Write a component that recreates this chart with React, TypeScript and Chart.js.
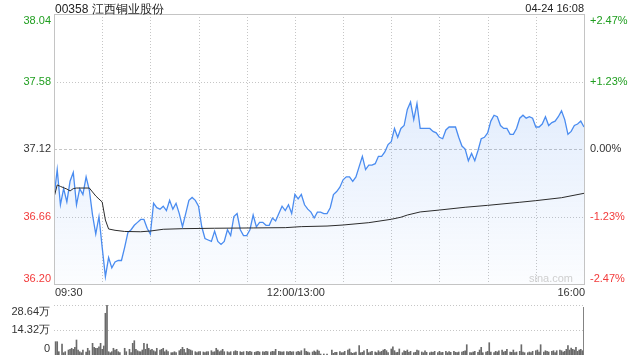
import React, { useEffect, useRef } from "react";
import { Chart, registerables } from "chart.js";

Chart.register(...registerables);

const TITLE = "00358 江西铜业股份";
const STAMP = "04-24 16:08";
const PREV_CLOSE = 37.12;
const PRICE_MIN = 36.2;
const PRICE_MAX = 38.04;
const PRICE_TICKS = [36.2, 36.66, 37.12, 37.58, 38.04];
const PRICE_LABELS = ["36.20", "36.66", "37.12", "37.58", "38.04"];
const PCT_LABELS = ["-2.47%", "-1.23%", "0.00%", "+1.23%", "+2.47%"];
const SESSION_MINUTES = 330;
const GRID_MINUTES = [30, 60, 90, 120, 150, 180, 210, 240, 270, 300];
const TIME_LABELS = ["09:30", "12:00/13:00", "16:00"];
const TIME_LABEL_MINUTES = [0, 150, 330];
const VOL_MAX = 28.64;
const VOL_TICKS = [0, 14.32, 28.64];
const VOL_LABELS = ["0", "14.32万", "28.64万"];

// price sampled every 2 minutes from 09:30
const PRICE_STEP = 2;
const prices = [
  36.79, 36.98, 36.74, 36.85, 36.76, 36.9, 36.96, 36.74, 36.85, 36.81,
  36.93, 36.84, 36.67, 36.54, 36.66, 36.45, 36.25, 36.38, 36.31, 36.35,
  36.36, 36.36, 36.45, 36.55, 36.57, 36.6, 36.62, 36.64, 36.64, 36.58,
  36.54, 36.75, 36.72, 36.71, 36.73, 36.7, 36.77, 36.71, 36.75, 36.68,
  36.59, 36.68, 36.77, 36.79, 36.77, 36.73, 36.59, 36.51, 36.5, 36.49,
  36.56, 36.49, 36.47, 36.49, 36.57, 36.53, 36.66, 36.68, 36.57, 36.53,
  36.53, 36.57, 36.67, 36.59, 36.62, 36.62, 36.6, 36.6, 36.65, 36.63,
  36.68, 36.73, 36.7, 36.74, 36.68, 36.81, 36.78, 36.81, 36.74, 36.71,
  36.69, 36.65, 36.69, 36.69, 36.68, 36.68, 36.72, 36.81, 36.83, 36.86,
  36.91, 36.93, 36.93, 36.9, 36.93, 37.0, 37.07, 36.98, 37.01, 37.01,
  37.02, 37.07, 37.07, 37.1, 37.15, 37.17, 37.26, 37.2, 37.26, 37.28,
  37.39, 37.44, 37.32, 37.43, 37.26, 37.26, 37.26, 37.26, 37.24, 37.23,
  37.2, 37.19, 37.25, 37.27, 37.27, 37.27, 37.2, 37.14, 37.12, 37.04,
  37.09, 37.04, 37.11, 37.19, 37.2, 37.23, 37.31, 37.35, 37.34, 37.28,
  37.26, 37.26, 37.22, 37.22, 37.26, 37.33, 37.35, 37.33, 37.34, 37.33,
  37.27, 37.27, 37.29, 37.34, 37.28, 37.3, 37.31, 37.34, 37.38, 37.32,
  37.22, 37.24, 37.28, 37.29, 37.31, 37.27,
];

// average price: [minute, price]
const avgLine: [number, number][] = [
  [0, 36.79], [2, 36.875], [4, 36.865], [8, 36.847], [10, 36.834], [12, 36.85],
  [14, 36.854], [22, 36.854], [24, 36.827], [26, 36.8], [28, 36.779], [30, 36.759],
  [32, 36.636], [34, 36.575], [38, 36.566], [44, 36.558], [54, 36.556], [60, 36.561],
  [68, 36.573], [80, 36.577], [100, 36.58], [124, 36.582], [144, 36.584], [154, 36.591],
  [170, 36.595], [180, 36.602], [196, 36.618], [210, 36.641], [216, 36.655], [220, 36.67],
  [228, 36.691], [240, 36.704], [256, 36.723], [270, 36.736], [290, 36.757], [300, 36.768],
  [316, 36.788], [330, 36.818],
];

// volume in 万 shares: [minute, volume]
const volume: [number, number][] = [
  [1, 7.62], [2, 7.62], [3, 1.89], [5, 6.3], [6, 1.32], [7, 1.89], [9, 2.86], [10, 3.26],
  [11, 3.84], [12, 3.26], [13, 4.41], [14, 8.59], [15, 2.86], [16, 1.89], [17, 1.32], [18, 2.86],
  [20, 1.72], [21, 3.84], [22, 2.46], [24, 6.7], [25, 4.41], [26, 3.84], [27, 3.84], [28, 4.75],
  [29, 6.7], [30, 3.26], [31, 5.16], [32, 23.89], [33, 28.64], [34, 1.89], [35, 1.32], [36, 1.89],
  [37, 3.84], [38, 2.86], [39, 3.26], [40, 1.89], [41, 1.32], [44, 3.84], [45, 1.89], [47, 3.26],
  [48, 1.32], [49, 6.7], [50, 8.19], [51, 3.26], [52, 2.46], [53, 1.89], [54, 1.89], [55, 2.86],
  [56, 6.7], [57, 3.26], [58, 6.3], [59, 3.84], [60, 2.86], [61, 3.26], [62, 2.46], [63, 1.89],
  [64, 3.84], [66, 2.86], [67, 3.26], [68, 3.84], [69, 1.89], [70, 2.86], [71, 1.89], [73, 1.32],
  [74, 1.32], [75, 1.89], [76, 1.32], [78, 2.46], [79, 3.26], [80, 4.41], [81, 3.26], [82, 1.32],
  [83, 3.84], [84, 3.26], [85, 2.86], [86, 2.46], [88, 1.89], [89, 1.32], [90, 1.89], [91, 1.89],
  [93, 1.72], [94, 1.32], [95, 1.89], [96, 1.89], [98, 2.46], [99, 1.72], [100, 1.89], [101, 3.84],
  [102, 2.86], [103, 1.89], [104, 2.46], [105, 3.26], [106, 1.89], [108, 1.89], [109, 1.32], [110, 1.89],
  [112, 1.89], [113, 2.46], [114, 2.12], [116, 1.89], [117, 1.55], [118, 1.89], [120, 2.12], [121, 1.72],
  [122, 2.12], [123, 1.72], [125, 1.55], [126, 1.89], [127, 2.12], [128, 1.72], [130, 1.89], [131, 1.72],
  [132, 2.12], [133, 1.89], [135, 1.72], [136, 2.12], [137, 1.89], [138, 3.26], [140, 2.12], [141, 1.89],
  [142, 1.72], [143, 1.89], [145, 1.89], [146, 1.72], [147, 2.12], [148, 1.72], [149, 1.89], [151, 1.72],
  [152, 2.12], [153, 1.72], [154, 2.46], [156, 3.61], [157, 2.12], [158, 1.72], [159, 1.32], [161, 1.72],
  [162, 2.29], [163, 1.72], [164, 2.86], [165, 2.29], [166, 0.57], [168, 0.57], [170, 0.57], [173, 2.86],
  [174, 0.97], [175, 1.55], [176, 1.55], [178, 1.89], [179, 1.32], [180, 1.32], [181, 2.12], [183, 2.86],
  [184, 3.44], [185, 1.32], [186, 0.97], [187, 1.32], [188, 1.72], [190, 5.33], [191, 1.32], [192, 1.55],
  [193, 2.46], [195, 3.26], [196, 1.32], [197, 1.72], [198, 2.12], [200, 1.72], [201, 1.32], [202, 2.46],
  [203, 1.72], [204, 2.12], [205, 2.86], [206, 3.26], [207, 2.46], [208, 1.32], [210, 3.44], [211, 4.75],
  [212, 2.46], [213, 1.32], [214, 1.55], [215, 3.44], [217, 1.32], [218, 2.46], [219, 2.12], [220, 2.86],
  [221, 1.55], [222, 2.12], [224, 1.32], [225, 1.55], [226, 2.86], [227, 2.46], [229, 1.72], [230, 1.32],
  [231, 2.46], [232, 1.55], [234, 1.32], [235, 1.72], [236, 1.55], [237, 2.12], [239, 1.32], [240, 2.12],
  [241, 1.32], [242, 1.55], [244, 2.12], [245, 1.32], [246, 1.89], [247, 1.55], [249, 2.12], [250, 1.55],
  [251, 1.32], [252, 1.72], [254, 1.72], [255, 2.12], [256, 2.46], [257, 5.9], [259, 1.32], [260, 1.32],
  [261, 1.72], [262, 2.12], [264, 1.55], [265, 2.86], [266, 4.41], [267, 1.32], [269, 1.72], [270, 2.12],
  [271, 7.05], [272, 1.72], [274, 1.32], [275, 2.12], [276, 1.72], [277, 2.46], [279, 2.86], [280, 1.72],
  [281, 2.12], [282, 3.26], [284, 1.72], [285, 1.55], [286, 2.86], [287, 1.32], [288, 1.72], [290, 2.12],
  [291, 5.9], [292, 1.72], [293, 1.32], [295, 1.32], [296, 1.72], [297, 1.32], [298, 2.12], [300, 2.46],
  [301, 2.86], [302, 1.72], [303, 5.9], [305, 1.72], [306, 2.46], [307, 2.12], [308, 1.72], [310, 2.12],
  [311, 2.46], [312, 1.32], [313, 2.46], [315, 2.86], [316, 2.46], [317, 1.72], [318, 2.12], [319, 3.26],
  [320, 5.33], [321, 2.86], [322, 4.01], [323, 3.26], [324, 2.86], [325, 4.41], [326, 2.12], [327, 2.86],
  [328, 3.26], [329, 2.46], [330, 27.32],
];

const FONT = '"Liberation Sans", Arial, sans-serif';
const GREEN = "#1f9e1f";
const RED = "#f23a3a";
const DARK = "#333333";
const GRID = "#c6c6c6";

function labelColor(v: number) {
  if (Math.abs(v - PREV_CLOSE) < 1e-6) return DARK;
  return v > PREV_CLOSE ? GREEN : RED;
}

function drawDotted(ctx: CanvasRenderingContext2D, x0: number, y0: number, x1: number, y1: number, on: number, off: number) {
  const horizontal = y0 === y1;
  const len = horizontal ? x1 - x0 : y1 - y0;
  for (let t = 0; t < len; t += on + off) {
    const seg = Math.min(on, len - t);
    if (horizontal) ctx.fillRect(Math.round(x0 + t), Math.round(y0), seg, 1);
    else ctx.fillRect(Math.round(x0), Math.round(y0 + t), 1, seg);
  }
}

const mainDeco = {
  id: "mainDeco",
  beforeDatasetsDraw(chart: any) {
    const { ctx, chartArea: a, scales } = chart;
    const xs = scales.x;
    const ys = scales.y;
    ctx.save();
    ctx.fillStyle = GRID;
    PRICE_TICKS.forEach((v) => {
      const py = Math.round(ys.getPixelForValue(v));
      if (v === PREV_CLOSE) drawDotted(ctx, a.left, py, a.right, py, 3, 2);
      else drawDotted(ctx, a.left, py, a.right, py, 1, 2);
    });
    GRID_MINUTES.forEach((m) => {
      const px = Math.round(xs.getPixelForValue(m));
      drawDotted(ctx, px, a.top, px, a.bottom, 1, 2);
    });
    ctx.restore();
  },
  afterDraw(chart: any) {
    const { ctx, chartArea: a, scales } = chart;
    const xs = scales.x;
    const ys = scales.y;
    ctx.save();
    ctx.setLineDash([]);
    ctx.strokeStyle = "#c4c4c4";
    ctx.lineWidth = 1;
    ctx.strokeRect(a.left + 0.5, a.top + 0.5, a.right - a.left, a.bottom - a.top);

    ctx.font = `11px ${FONT}`;
    PRICE_TICKS.forEach((v, i) => {
      const py = ys.getPixelForValue(v);
      let base: CanvasTextBaseline = "middle";
      let yy = py;
      if (i === PRICE_TICKS.length - 1) { base = "top"; yy = py + 1; }
      if (i === 0) { base = "alphabetic"; yy = py - 2; }
      ctx.textBaseline = base;
      ctx.fillStyle = labelColor(v);
      ctx.textAlign = "right";
      ctx.fillText(PRICE_LABELS[i], a.left - 3, yy);
      ctx.textAlign = "left";
      ctx.fillText(PCT_LABELS[i], a.right + 6, yy);
    });

    ctx.fillStyle = DARK;
    ctx.textBaseline = "middle";
    TIME_LABELS.forEach((t, i) => {
      const px = xs.getPixelForValue(TIME_LABEL_MINUTES[i]);
      ctx.textAlign = i === 0 ? "left" : i === TIME_LABELS.length - 1 ? "right" : "center";
      ctx.fillText(t, px + 1, a.bottom + 9);
    });

    ctx.textBaseline = "alphabetic";
    ctx.font = `12px ${FONT}`;
    ctx.fillStyle = "#222";
    ctx.textAlign = "left";
    ctx.fillText(TITLE, a.left + 1, 12.5);
    ctx.font = `11px ${FONT}`;
    ctx.textAlign = "right";
    ctx.fillText(STAMP, a.right, 11.5);

    ctx.fillStyle = "#cfcfcf";
    ctx.font = `11px ${FONT}`;
    ctx.textAlign = "right";
    ctx.fillText("sina.com", a.right - 11, a.bottom - 2);
    ctx.restore();
  },
};

const volDeco = {
  id: "volDeco",
  beforeDatasetsDraw(chart: any) {
    const { ctx, chartArea: a, scales } = chart;
    const ys = scales.y;
    ctx.save();
    ctx.fillStyle = GRID;
    VOL_TICKS.slice(1).forEach((v) => {
      const py = Math.round(ys.getPixelForValue(v));
      drawDotted(ctx, a.left, py, a.right, py, 1, 2);
    });
    ctx.restore();
  },
  afterDraw(chart: any) {
    const { ctx, chartArea: a, scales } = chart;
    const ys = scales.y;
    ctx.save();
    ctx.font = `11px ${FONT}`;
    ctx.fillStyle = DARK;
    ctx.textAlign = "right";
    VOL_TICKS.forEach((v, i) => {
      const py = ys.getPixelForValue(v);
      let base: CanvasTextBaseline = "middle";
      let yy = py;
      if (i === VOL_TICKS.length - 1) { base = "top"; yy = py + 1; }
      if (i === 0) { base = "alphabetic"; yy = py - 3; }
      ctx.textBaseline = base;
      ctx.fillText(VOL_LABELS[i], a.left - 4, yy);
    });
    ctx.restore();
  },
};

export default function App() {
  const mainRef = useRef<HTMLCanvasElement | null>(null);
  const volRef = useRef<HTMLCanvasElement | null>(null);

  useEffect(() => {
    const priceData = prices.map((p, i) => ({ x: i * PRICE_STEP, y: p }));
    const avgData = avgLine.map(([m, p]) => ({ x: m, y: p }));
    const volData = volume.map(([m, v]) => ({ x: m, y: v }));

    const main = new Chart(mainRef.current as HTMLCanvasElement, {
      type: "line",
      data: {
        datasets: [
          {
            label: "avg",
            data: avgData,
            borderColor: "#2b2b2b",
            borderWidth: 1,
            pointRadius: 0,
            fill: false,
            tension: 0,
            order: 0,
          },
          {
            label: "price",
            data: priceData,
            borderColor: "#4a8cf0",
            borderWidth: 1.3,
            pointRadius: 0,
            tension: 0,
            fill: "start",
            order: 1,
            backgroundColor: (c: any) => {
              const ch = c.chart;
              const a = ch.chartArea;
              if (!a) return "rgba(74,140,240,0.1)";
              const g = ch.ctx.createLinearGradient(0, a.top, 0, a.bottom);
              g.addColorStop(0, "rgba(74,140,240,0.22)");
              g.addColorStop(1, "rgba(74,140,240,0.02)");
              return g;
            },
          },
        ],
      },
      options: {
        responsive: false,
        animation: false,
        events: [],
        layout: { padding: { left: 54, right: 56, top: 14, bottom: 16 } },
        plugins: { legend: { display: false }, tooltip: { enabled: false } },
        scales: {
          x: { type: "linear", min: 0, max: SESSION_MINUTES, display: false },
          y: { type: "linear", min: PRICE_MIN, max: PRICE_MAX, display: false },
        },
      },
      plugins: [mainDeco],
    } as any);

    const vol = new Chart(volRef.current as HTMLCanvasElement, {
      type: "bar",
      data: {
        datasets: [
          {
            label: "volume",
            data: volData,
            backgroundColor: "#6a6a6a",
            barThickness: 1,
            borderWidth: 0,
          },
        ],
      },
      options: {
        responsive: false,
        animation: false,
        events: [],
        layout: { padding: { left: 54, right: 56, top: 5, bottom: 5 } },
        plugins: { legend: { display: false }, tooltip: { enabled: false } },
        scales: {
          x: { type: "linear", min: 0, max: SESSION_MINUTES, display: false, offset: false },
          y: { type: "linear", min: 0, max: VOL_MAX, display: false },
        },
      },
      plugins: [volDeco],
    } as any);

    return () => {
      main.destroy();
      vol.destroy();
    };
  }, []);

  return (
    <div style={{ position: "fixed", left: 0, top: 0, width: 640, height: 360, background: "#fff" }}>
      <canvas ref={mainRef} width={640} height={300} style={{ position: "absolute", left: 0, top: 0 }} />
      <canvas ref={volRef} width={640} height={60} style={{ position: "absolute", left: 0, top: 300 }} />
    </div>
  );
}
